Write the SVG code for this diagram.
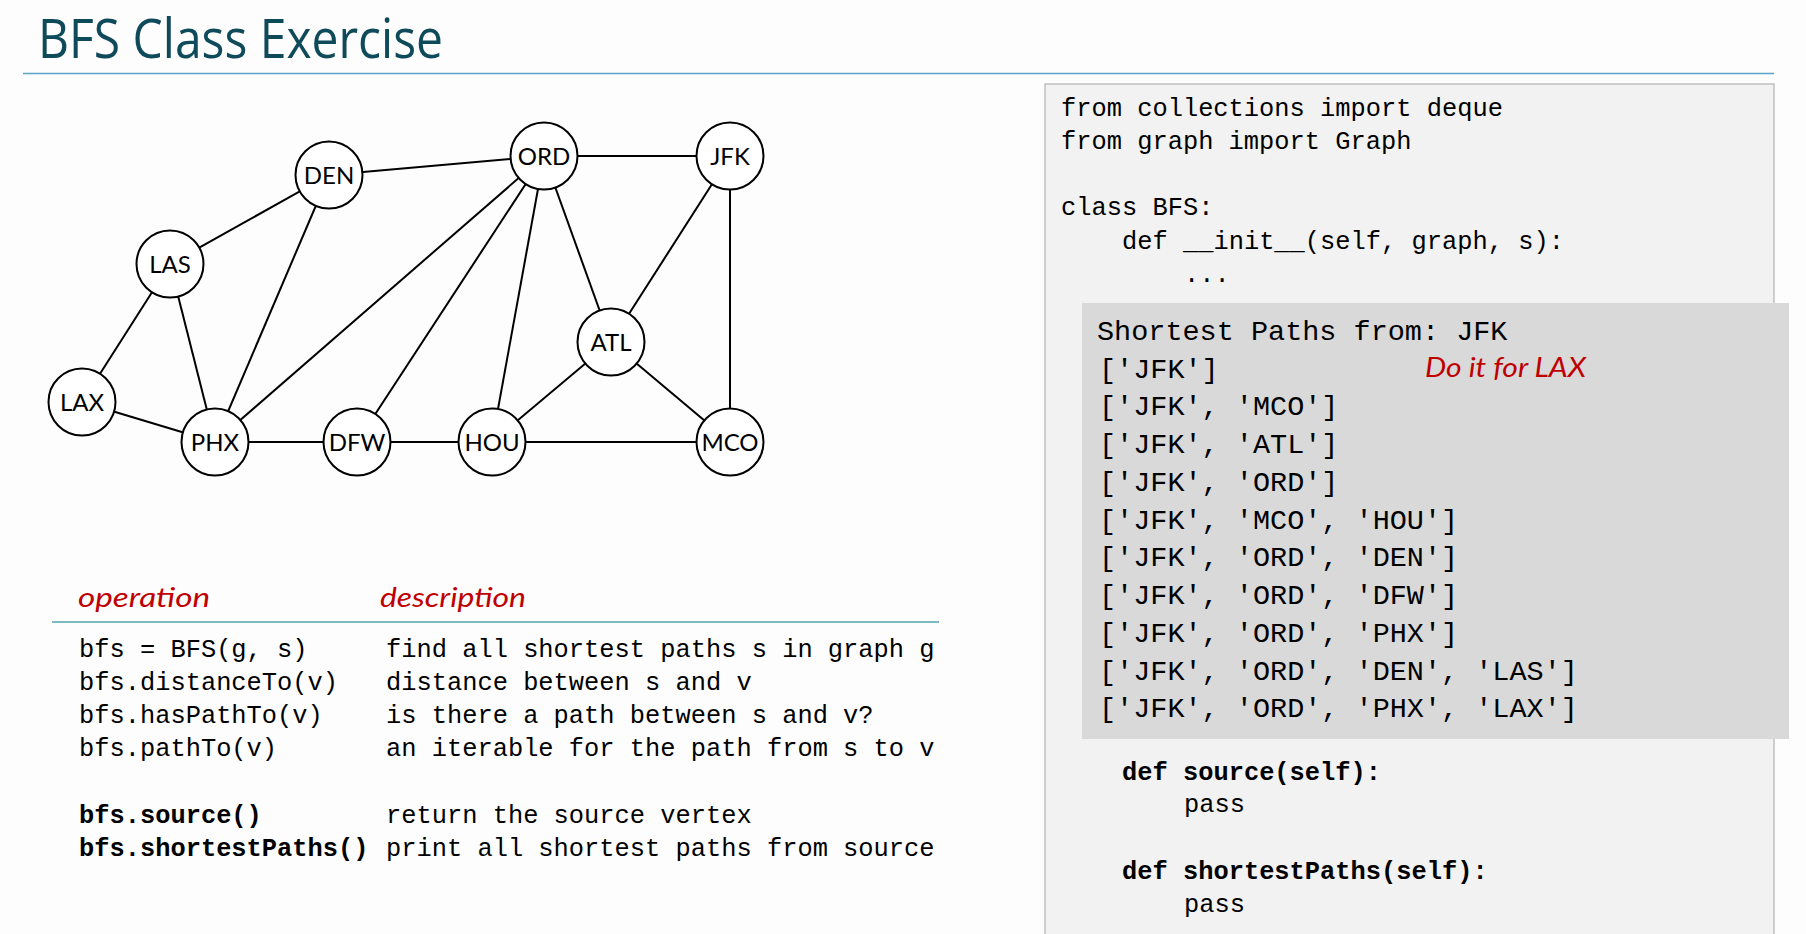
<svg xmlns="http://www.w3.org/2000/svg" width="1806" height="934" viewBox="0 0 1806 934">
<style>
.title{font-family:"Open Sans","Noto Sans",sans-serif;font-size:54px;fill:#0e4a5a}
.edge{stroke:#000;stroke-width:2;fill:none}
.node circle{fill:#fff;stroke:#000;stroke-width:2}
.node text{font-family:Lato,"Liberation Sans",sans-serif;font-size:24px;fill:#000;text-anchor:middle}
.hdr{font-family:Lato,"Liberation Sans",sans-serif;font-style:italic;font-size:27px;fill:#c00000}
.mono{font-family:"Liberation Mono","DejaVu Sans Mono",monospace;font-size:25.4px;fill:#000}
.b{font-weight:bold}
.out{font-family:"Liberation Mono","DejaVu Sans Mono",monospace;font-size:28.5px;fill:#000}
</style>
<rect x="0" y="0" width="1806" height="934" fill="#fdfdfd"/>
<text class="title" x="38" y="58" textLength="405" lengthAdjust="spacingAndGlyphs">BFS Class Exercise</text>
<line x1="23" y1="73.5" x2="1774" y2="73.5" stroke="#5ba3c6" stroke-width="1.5"/>

<g id="connectors">
<line class="edge" x1="329" y1="175" x2="544" y2="156"/>
<line class="edge" x1="329" y1="175" x2="170" y2="264"/>
<line class="edge" x1="329" y1="175" x2="215" y2="442"/>
<line class="edge" x1="170" y1="264" x2="82" y2="402"/>
<line class="edge" x1="170" y1="264" x2="215" y2="442"/>
<line class="edge" x1="82" y1="402" x2="215" y2="442"/>
<line class="edge" x1="215" y1="442" x2="357" y2="442"/>
<line class="edge" x1="215" y1="442" x2="544" y2="156"/>
<line class="edge" x1="357" y1="442" x2="492" y2="442"/>
<line class="edge" x1="357" y1="442" x2="544" y2="156"/>
<line class="edge" x1="492" y1="442" x2="544" y2="156"/>
<line class="edge" x1="492" y1="442" x2="611" y2="342"/>
<line class="edge" x1="492" y1="442" x2="730" y2="442"/>
<line class="edge" x1="544" y1="156" x2="730" y2="156"/>
<line class="edge" x1="544" y1="156" x2="611" y2="342"/>
<line class="edge" x1="730" y1="156" x2="611" y2="342"/>
<line class="edge" x1="730" y1="156" x2="730" y2="442"/>
<line class="edge" x1="611" y1="342" x2="730" y2="442"/>
</g>

<g id="node-DEN" class="node"><circle cx="329" cy="175" r="33.5"/><text x="329" y="183.5">DEN</text></g>
<g id="node-ORD" class="node"><circle cx="544" cy="156" r="33.5"/><text x="544" y="164.5">ORD</text></g>
<g id="node-JFK" class="node"><circle cx="730" cy="156" r="33.5"/><text x="730" y="164.5">JFK</text></g>
<g id="node-LAS" class="node"><circle cx="170" cy="264" r="33.5"/><text x="170" y="272.5">LAS</text></g>
<g id="node-ATL" class="node"><circle cx="611" cy="342" r="33.5"/><text x="611" y="350.5">ATL</text></g>
<g id="node-LAX" class="node"><circle cx="82" cy="402" r="33.5"/><text x="82" y="410.5">LAX</text></g>
<g id="node-PHX" class="node"><circle cx="215" cy="442" r="33.5"/><text x="215" y="450.5">PHX</text></g>
<g id="node-DFW" class="node"><circle cx="357" cy="442" r="33.5"/><text x="357" y="450.5">DFW</text></g>
<g id="node-HOU" class="node"><circle cx="492" cy="442" r="33.5"/><text x="492" y="450.5">HOU</text></g>
<g id="node-MCO" class="node"><circle cx="730" cy="442" r="33.5"/><text x="730" y="450.5">MCO</text></g>

<g id="api-table">
<text class="hdr" x="78" y="607" textLength="132" lengthAdjust="spacingAndGlyphs">operation</text>
<text class="hdr" x="380" y="607" textLength="146" lengthAdjust="spacingAndGlyphs">description</text>
<line x1="52" y1="622" x2="939" y2="622" stroke="#4fa3a8" stroke-width="1.5"/>
<text class="mono" x="79" y="657">bfs = BFS(g, s)</text>
<text class="mono" x="79" y="690">bfs.distanceTo(v)</text>
<text class="mono" x="79" y="723">bfs.hasPathTo(v)</text>
<text class="mono" x="79" y="756">bfs.pathTo(v)</text>
<text class="mono b" x="79" y="823">bfs.source()</text>
<text class="mono b" x="79" y="856">bfs.shortestPaths()</text>
<text class="mono" x="386" y="657">find all shortest paths s in graph g</text>
<text class="mono" x="386" y="690">distance between s and v</text>
<text class="mono" x="386" y="723">is there a path between s and v?</text>
<text class="mono" x="386" y="756">an iterable for the path from s to v</text>
<text class="mono" x="386" y="823">return the source vertex</text>
<text class="mono" x="386" y="856">print all shortest paths from source</text>
</g>

<g id="code-panel">
<rect x="1045" y="84" width="729" height="870" fill="#f2f2f2" stroke="#bfbfbf" stroke-width="1.5"/>
<text class="mono" x="1061" y="116">from collections import deque</text>
<text class="mono" x="1061" y="149">from graph import Graph</text>
<text class="mono" x="1061" y="215">class BFS:</text>
<text class="mono" x="1122" y="249">def __init__(self, graph, s):</text>
<text class="mono" x="1184" y="282">...</text>
<text class="mono b" x="1122" y="780">def source(self):</text>
<text class="mono" x="1184" y="812">pass</text>
<text class="mono b" x="1122" y="879">def shortestPaths(self):</text>
<text class="mono" x="1184" y="912">pass</text>
</g>

<g id="output-box">
<rect x="1082" y="303" width="707" height="436" fill="#d9d9d9"/>
<text class="out" x="1097" y="340">Shortest Paths from: JFK</text>
<text class="out" x="1099" y="378">['JFK']</text>
<text class="out" x="1099" y="415">['JFK', 'MCO']</text>
<text class="out" x="1099" y="453">['JFK', 'ATL']</text>
<text class="out" x="1099" y="491">['JFK', 'ORD']</text>
<text class="out" x="1099" y="529">['JFK', 'MCO', 'HOU']</text>
<text class="out" x="1099" y="566">['JFK', 'ORD', 'DEN']</text>
<text class="out" x="1099" y="604">['JFK', 'ORD', 'DFW']</text>
<text class="out" x="1099" y="642">['JFK', 'ORD', 'PHX']</text>
<text class="out" x="1099" y="680">['JFK', 'ORD', 'DEN', 'LAS']</text>
<text class="out" x="1099" y="717">['JFK', 'ORD', 'PHX', 'LAX']</text>
<text class="hdr" x="1425" y="377" textLength="161" lengthAdjust="spacingAndGlyphs">Do it for LAX</text>
</g>
</svg>
